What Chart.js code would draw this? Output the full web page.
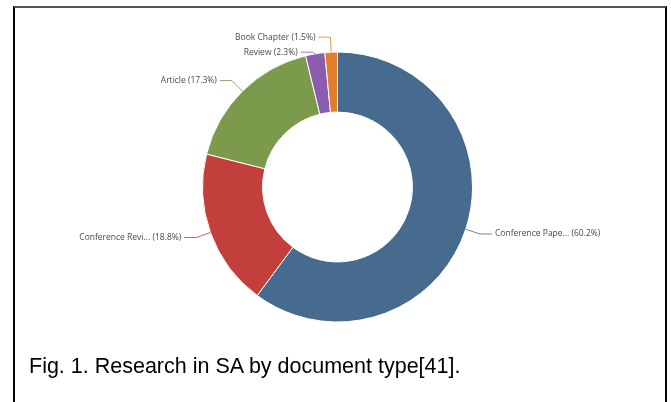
<!DOCTYPE html>
<html>
<head>
<meta charset="utf-8">
<script src="https://cdn.jsdelivr.net/npm/chart.js@4"></script>
<style>
  html, body { margin: 0; padding: 0; background: #fff; width: 671px; height: 402px; overflow: hidden; }
  #frame { position: absolute; left: 13px; top: 6px; width: 650px; height: 420px;
           border-left: 2px solid #000; border-right: 2px solid #000; border-top: 2px solid #555; }
  #wrap { position: absolute; left: 0; top: 0; width: 671px; height: 374px; }
  #caption { position: absolute; left: 29px; top: 354px; font-family: "Liberation Sans", Arial, sans-serif;
             font-size: 21.5px; color: #000; white-space: nowrap; }
</style>
</head>
<body>
<div id="frame"></div>
<div id="wrap"><canvas id="doc-chart"></canvas></div>
<div id="caption">Fig. 1. Research in SA by document type[41].</div>
<script>
// document types, in drawing order (clockwise from top)
var docTypes = ['Conference Paper', 'Conference Review', 'Article', 'Review', 'Book Chapter'];
var shortNames = ['Conference Pape...', 'Conference Revi...', 'Article', 'Review', 'Book Chapter'];
var shares = [60.2, 18.8, 17.3, 2.3, 1.5];
var colors = ['#476a8f', '#c23f3b', '#7b9a4b', '#8a5db0', '#e27d2b'];

// draws echarts-style outside labels with leader lines
var outsideLabels = {
    id: 'outsideLabels',
    afterDraw: function(chart) {
        var ctx = chart.ctx;
        var arcs = chart.getDatasetMeta(0).data;
        var items = [];
        arcs.forEach(function(arc, i) {
            var mid = (arc.startAngle + arc.endAngle) / 2;
            var dx = Math.cos(mid), dy = Math.sin(mid);
            var r = arc.outerRadius;
            items.push({
                i: i,
                left: dx < 0,
                x0: arc.x + dx * r, y0: arc.y + dy * r,
                x1: arc.x + dx * (r + 15), y1: arc.y + dy * (r + 15)
            });
        });
        // push overlapping labels on each side apart
        [true, false].forEach(function(side) {
            var group = items.filter(function(it) { return it.left === side; });
            group.sort(function(a, b) { return a.y1 - b.y1; });
            for (var k = 1; k < group.length; k++) {
                if (group[k].y1 < group[k - 1].y1 + 15) group[k].y1 = group[k - 1].y1 + 15;
            }
        });
        ctx.save();
        ctx.font = '8.5px "Open Sans", sans-serif';
        ctx.textBaseline = 'middle';
        items.forEach(function(it) {
            var x2 = it.left ? it.x1 - 12 : it.x1 + 12;
            ctx.strokeStyle = colors[it.i];
            ctx.globalAlpha = 0.8;
            ctx.lineWidth = 1;
            ctx.beginPath();
            ctx.moveTo(it.x0, it.y0);
            ctx.lineTo(it.x1, it.y1);
            ctx.lineTo(x2, it.y1);
            ctx.stroke();
            ctx.globalAlpha = 1;
            ctx.fillStyle = '#4a4a4a';
            ctx.textAlign = it.left ? 'right' : 'left';
            var txt = shortNames[it.i] + ' (' + shares[it.i].toFixed(1) + '%)';
            ctx.fillText(txt, it.left ? x2 - 3 : x2 + 3, it.y1);
        });
        ctx.restore();
    }
};

new Chart(document.getElementById('doc-chart'), {
    type: 'doughnut',
    data: {
        labels: docTypes,
        datasets: [{
            data: shares,
            backgroundColor: colors,
            borderColor: '#fff',
            borderWidth: 1
        }]
    },
    options: {
        responsive: true,
        maintainAspectRatio: false,
        animation: false,
        radius: 135,
        cutout: '55.5%',
        layout: { padding: { left: 4 } },
        plugins: {
            legend: { display: false },
            tooltip: { enabled: false }
        }
    },
    plugins: [outsideLabels]
});
</script>
</body>
</html>
